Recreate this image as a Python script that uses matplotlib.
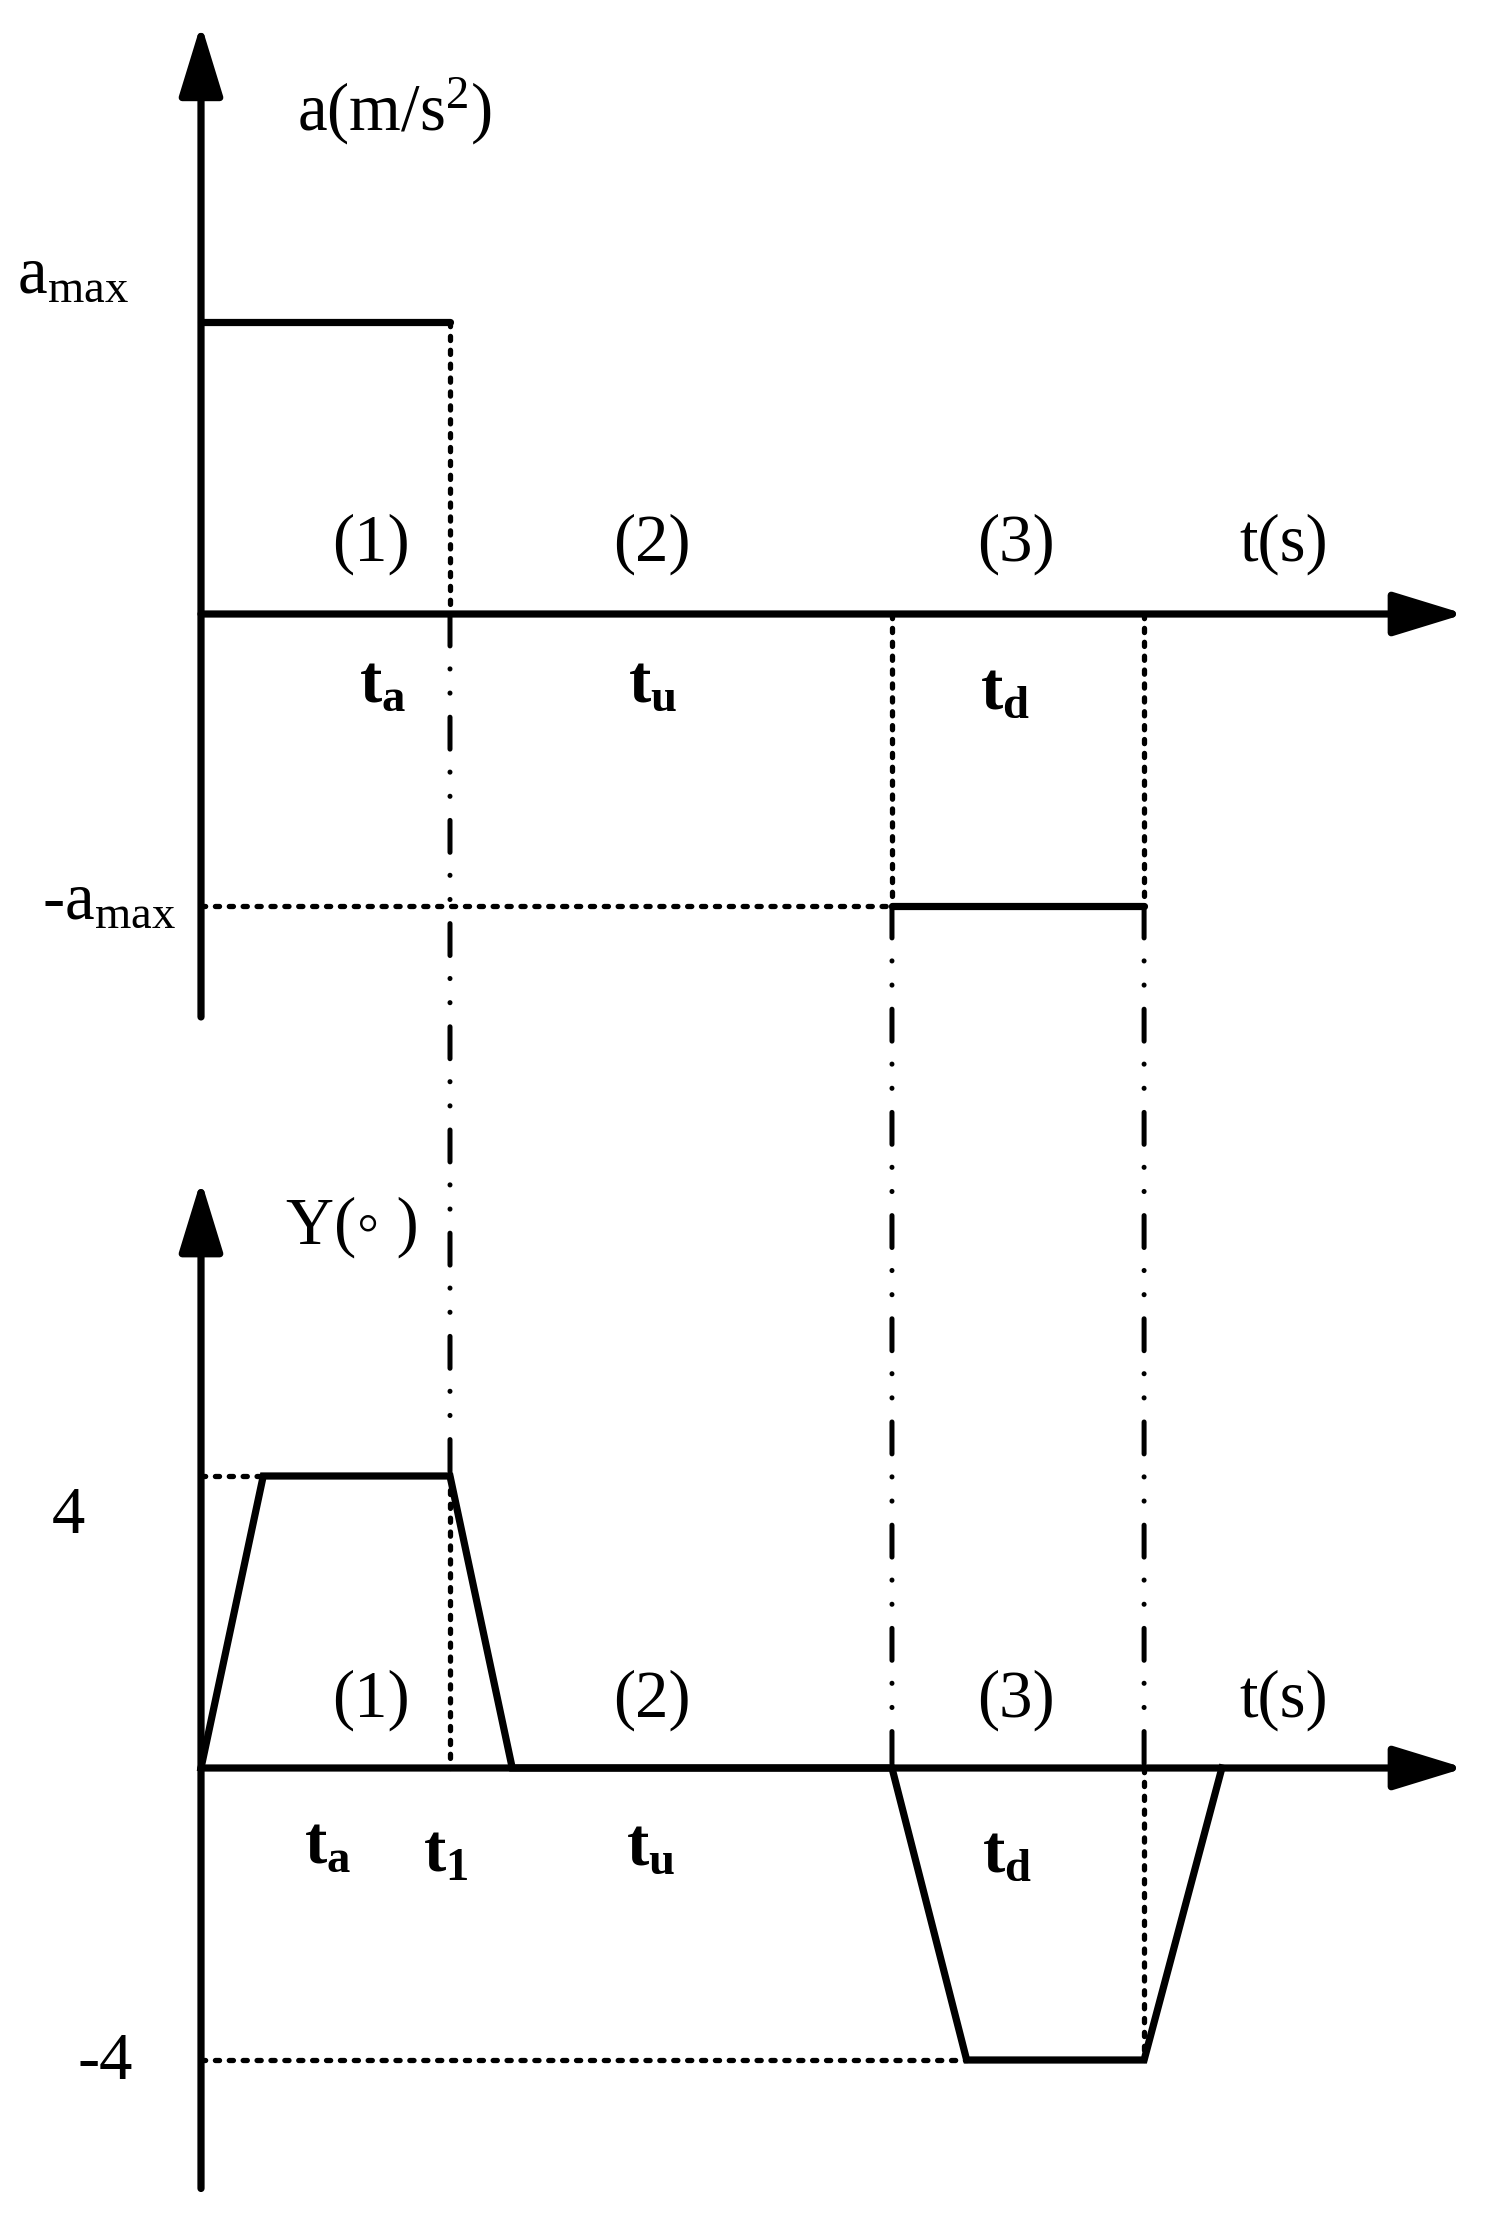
import matplotlib
matplotlib.use('Agg')
import matplotlib.pyplot as plt
from matplotlib.patches import ConnectionPatch

plt.rcParams['font.family'] = ['Liberation Serif', 'DejaVu Sans']
plt.rcParams['mathtext.fontset'] = 'custom'
plt.rcParams['mathtext.rm'] = 'Liberation Serif'
plt.rcParams['mathtext.bf'] = 'Liberation Serif:bold'
plt.rcParams['mathtext.it'] = 'Liberation Serif:italic'
plt.rcParams['lines.scale_dashes'] = False

# 时间节点 (s)
t1 = 4.0
td_start = 11.1
td_end = 15.15
t_axis_end = 20.3

# 加速度 a(t), a_max = 1
acc_t = [0, t1]
acc_v = [1, 1]
dec_t = [td_start, td_end]
dec_v = [-1, -1]
a_axis = [-1.38, 2.02]

# 角度 Y(t)
y_t = [0, 1.0, 4.0, 5.0, 11.1, 12.3, 15.15, 16.4]
y_v = [0, 4, 4, 0, 0, -4, -4, 0]
y_axis = [-5.76, 8.05]

# 标注
phase_labels = ['(1)', '(2)', '(3)', 't(s)']
phase_x = [2.73, 7.24, 13.09, 17.4]
top_t_labels = [r'$\mathbf{t}_{\mathbf{a}}$', r'$\mathbf{t}_{\mathbf{u}}$', r'$\mathbf{t}_{\mathbf{d}}$']
top_t_x = [2.92, 7.26, 12.92]
top_t_y = [-0.243, -0.243, -0.267]
bot_t_labels = [r'$\mathbf{t}_{\mathbf{a}}$', r'$\mathbf{t}_{\mathbf{1}}$', r'$\mathbf{t}_{\mathbf{u}}$', r'$\mathbf{t}_{\mathbf{d}}$']
bot_t_x = [2.04, 3.94, 7.23, 12.95]
bot_t_y = [-1.07, -1.2, -1.1, -1.2]

LW = 5.2
DOT = (0, (3.0, 7.0))
DASHDOT = (0, (23.0, 16.5, 0.1, 17.3, 0.1, 17.3))
FS = 48
HEAD = '-|>,head_length=44,head_width=13.5'

fig = plt.figure(figsize=(14.93, 22.22), dpi=100)
ax_a = fig.add_axes([0, 0, 1, 1])
ax_y = fig.add_axes([0, 0, 1, 1])
ax_a.set_xlim(-201 / 62.25, (1493 - 201) / 62.25)
ax_y.set_xlim(ax_a.get_xlim())
ax_a.set_ylim((614 - 2222) / 292, 614 / 292)
ax_y.set_ylim((1768 - 2222) / 73, 1768 / 73)
for ax in (ax_a, ax_y):
    ax.axis('off')
    ax.patch.set_alpha(0)


def axes_arrows(ax, ylo, yhi):
    props = dict(arrowstyle=HEAD, lw=LW, color='k', shrinkA=0, shrinkB=0, mutation_scale=1)
    ax.annotate('', xy=(0, yhi), xytext=(0, ylo), arrowprops=props)
    ax.annotate('', xy=(t_axis_end, 0), xytext=(0, 0), arrowprops=props)


def dotted(ax, xs, ys):
    ax.plot(xs, ys, color='k', lw=3.8, linestyle=DOT, dash_capstyle='round', zorder=1)


# ---- a(t)
axes_arrows(ax_a, a_axis[0], a_axis[1])
ax_a.plot(acc_t, acc_v, color='k', lw=LW, solid_capstyle='round', zorder=3)
ax_a.plot(dec_t, dec_v, color='k', lw=LW, solid_capstyle='round', zorder=3)
dotted(ax_a, [t1, t1], [acc_v[-1], 0])
dotted(ax_a, [0, td_start], [dec_v[0], dec_v[0]])
dotted(ax_a, [td_start, td_start], [0, dec_v[0]])
dotted(ax_a, [td_end, td_end], [0, dec_v[-1]])

ax_a.text(1.54, 1.655, r'a(m/s$^2$)', fontsize=FS, ha='left', va='baseline')
ax_a.text(-2.96, 1.10, r'$\mathrm{a_{max}}$', fontsize=FS, ha='left', va='baseline')
ax_a.text(-2.55, -1.045, r'-$\mathrm{a_{max}}$', fontsize=FS, ha='left', va='baseline')
for lab, x in zip(phase_labels, phase_x):
    ax_a.text(x, 0.24, lab, fontsize=FS, ha='center', va='center')
for lab, x, y in zip(top_t_labels, top_t_x, top_t_y):
    ax_a.text(x, y, lab, fontsize=FS, ha='center', va='center')

# ---- Y(t)
axes_arrows(ax_y, y_axis[0], y_axis[1])
ax_y.plot(y_t, y_v, color='k', lw=LW, solid_joinstyle='miter', zorder=3)
dotted(ax_y, [0, y_t[1]], [y_v[1], y_v[1]])
dotted(ax_y, [t1, t1], [y_v[2], 0])
dotted(ax_y, [0, y_t[5]], [y_v[5], y_v[5]])
dotted(ax_y, [td_end, td_end], [0, y_v[6]])

ax_y.text(1.37, 7.19, 'Y(\u25e6 )', fontsize=FS, ha='left', va='baseline')
ax_y.text(-2.39, 3.22, '4', fontsize=FS, ha='left', va='baseline')
ax_y.text(-1.98, -4.26, '-4', fontsize=FS, ha='left', va='baseline')
for lab, x in zip(phase_labels, phase_x):
    ax_y.text(x, 0.93, lab, fontsize=FS, ha='center', va='center')
for lab, x, y in zip(bot_t_labels, bot_t_x, bot_t_y):
    ax_y.text(x, y, lab, fontsize=FS, ha='center', va='center')

# ---- 上下两图之间的点划线
for x, ya, yb in [(t1, 0, y_v[2]), (td_start, dec_v[0], 0), (td_end, dec_v[-1], 0)]:
    con = ConnectionPatch(xyA=(x, ya), coordsA=ax_a.transData,
                          xyB=(x, yb), coordsB=ax_y.transData,
                          color='k', lw=3.6, linestyle=DASHDOT, capstyle='round')
    con.set_clip_on(False)
    fig.add_artist(con)

fig.savefig('out.png', dpi=100, facecolor='white')
